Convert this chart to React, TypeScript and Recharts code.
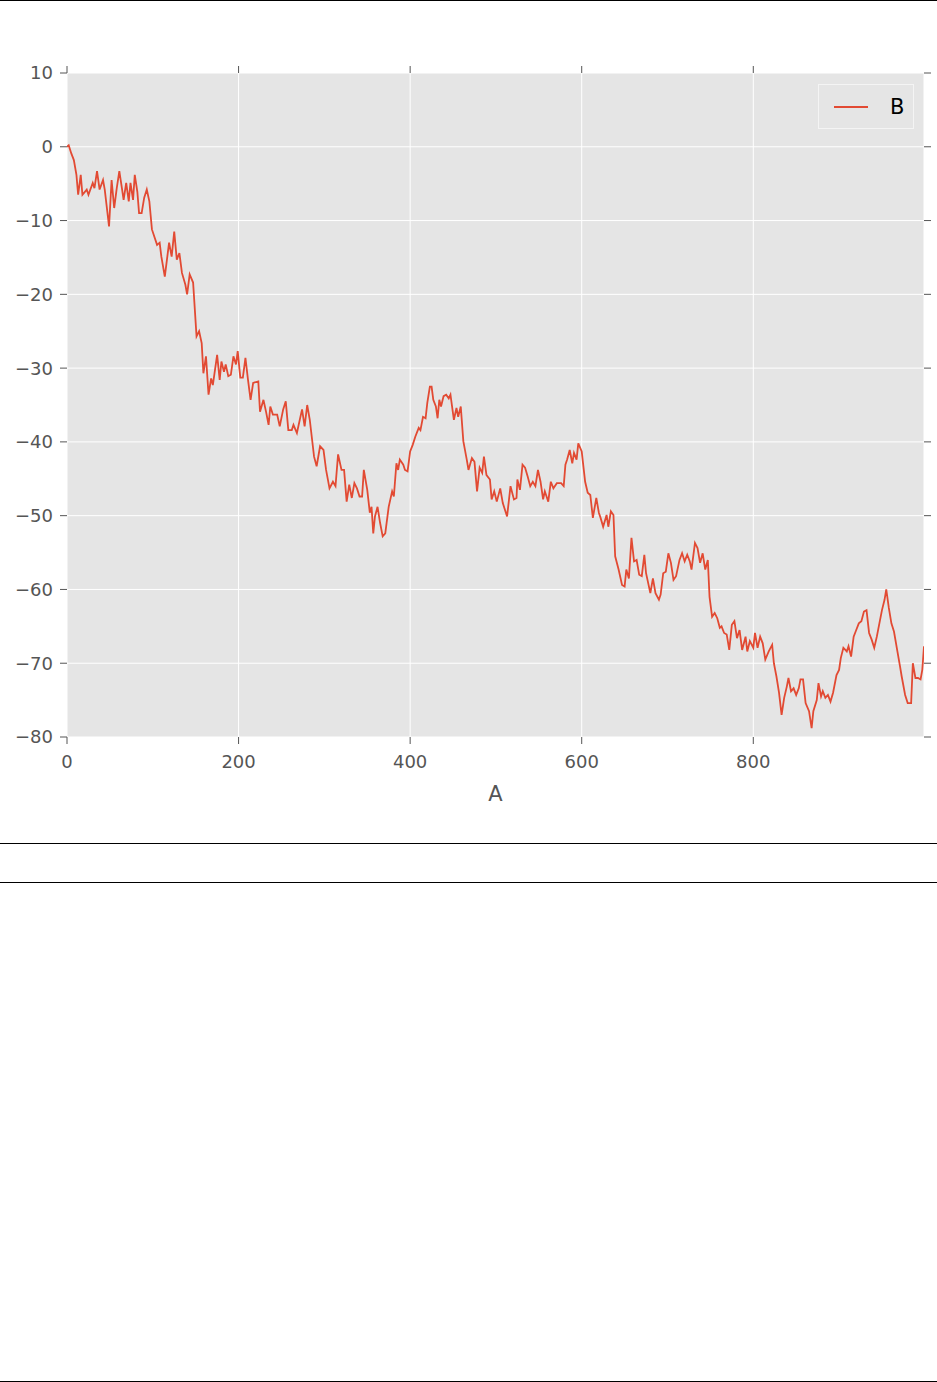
import React from 'react';
import { LineChart, Line, XAxis, YAxis, CartesianGrid, Legend, Label } from 'recharts';

// x positions (column A)
const aVals = [
  0, 2, 5, 8, 11, 13, 16, 18, 23, 25, 30, 32, 35, 38, 42, 44, 49, 52, 55, 58,
  61, 64, 66, 69, 72, 74, 77, 79, 82, 84, 87, 90, 93, 96, 99, 105, 108, 110, 114, 119,
  122, 125, 128, 131, 134, 138, 140, 143, 147, 151, 154, 157, 159, 162, 165, 168, 170, 175, 178, 180,
  183, 185, 188, 191, 194, 197, 199, 202, 205, 208, 211, 214, 217, 223, 225, 229, 232, 235, 237, 240,
  245, 248, 252, 255, 258, 262, 264, 268, 274, 277, 280, 283, 288, 291, 295, 299, 302, 306, 310, 313,
  316, 320, 323, 326, 329, 332, 335, 338, 341, 344, 346, 350, 353, 355, 357, 359, 362, 365, 368, 371,
  375, 379, 381, 384, 386, 388, 392, 394, 397, 400, 403, 406, 410, 412, 415, 418, 420, 423, 425, 427,
  430, 432, 434, 436, 439, 442, 445, 447, 451, 454, 456, 459, 462, 466, 468, 472, 475, 478, 481, 484,
  486, 489, 493, 495, 498, 501, 505, 508, 513, 517, 521, 524, 525, 528, 531, 534, 537, 540, 543, 546,
  549, 552, 555, 557, 561, 564, 567, 571, 576, 579, 581, 583, 586, 589, 591, 594, 596, 600, 604, 607,
  610, 613, 617, 620, 622, 625, 629, 631, 634, 637, 639, 643, 647, 650, 652, 655, 658, 661, 664, 667,
  670, 673, 675, 680, 683, 686, 690, 692, 695, 698, 701, 704, 707, 710, 714, 717, 720, 723, 726, 728,
  732, 735, 738, 741, 744, 747, 749, 752, 755, 758, 761, 763, 766, 769, 772, 775, 778, 781, 784, 787,
  791, 793, 796, 800, 802, 805, 808, 811, 814, 818, 822, 824, 827, 830, 833, 836, 839, 841, 844, 847,
  850, 853, 855, 858, 861, 865, 868, 870, 874, 876, 879, 881, 884, 887, 890, 893, 897, 900, 902, 905,
  909, 911, 914, 917, 920, 923, 926, 929, 932, 935, 938, 941, 944, 947, 950, 953, 955, 958, 961, 964,
  968, 971, 973, 977, 980, 984, 986, 989, 992, 995, 997, 999,
];

// series B
const bVals = [
  0, 0.2, -0.9, -1.8, -3.8, -6.5, -3.8, -6.5, -5.8, -6.5, -4.9, -5.6, -3.3, -5.8, -4.5, -5.8, -10.8, -4.5, -8.3, -5.6,
  -3.3, -5.6, -7.2, -4.9, -7.4, -4.9, -7.2, -3.8, -6.1, -9, -9, -6.9, -5.8, -7.4, -11.2, -13.3, -13, -14.9, -17.6, -13,
  -14.9, -11.5, -15.3, -14.4, -17.1, -18.7, -20, -17.3, -18.4, -25.7, -25, -26.6, -30.7, -28.4, -33.6, -31.4, -32.3, -28.2, -31.6, -29.1,
  -30.5, -29.5, -31.1, -30.9, -28.4, -29.5, -27.7, -31.3, -31.3, -28.6, -31.6, -34.3, -32, -31.8, -35.9, -34.3, -35.9, -37.7, -35.2, -36.3,
  -36.3, -37.9, -35.6, -34.5, -38.4, -38.4, -37.7, -38.8, -35.6, -37.9, -35, -37, -42, -43.3, -40.6, -41.1, -43.8, -46.3, -45.4, -46,
  -41.7, -43.8, -43.8, -48.1, -45.8, -47.6, -45.6, -46.3, -47.4, -47.4, -43.8, -46.5, -49.6, -48.8, -52.4, -50.1, -48.8, -51, -52.8, -52.4,
  -48.8, -46.7, -47.4, -42.9, -43.8, -42.4, -43.1, -43.8, -44, -41.3, -40.4, -39.3, -38.1, -38.4, -36.6, -36.8, -34.7, -32.5, -32.5, -34.3,
  -35.2, -36.8, -34.3, -35.2, -33.8, -33.6, -34.1, -33.6, -37, -35.4, -36.6, -35.2, -39.9, -42.4, -43.8, -42.2, -42.7, -46.7, -43.5, -44.2,
  -42, -44.5, -45.1, -47.8, -46.7, -48.1, -46.3, -48.3, -50.1, -46, -47.8, -47.6, -45.1, -46.5, -43.1, -43.5, -44.7, -46, -45.4, -46,
  -43.8, -45.4, -47.8, -46.7, -48.1, -45.4, -46.3, -45.6, -45.6, -46, -43.1, -42.4, -41.1, -42.9, -41.5, -42.4, -40.2, -41.3, -45.4, -46.9,
  -47.2, -50.3, -47.6, -49.6, -50.3, -51.5, -49.9, -51.5, -49.4, -49.9, -55.5, -57.3, -59.4, -59.6, -57.3, -58.5, -53, -56.2, -56, -58,
  -58.2, -55.3, -57.8, -60.5, -58.5, -60.5, -61.4, -60.7, -57.8, -57.6, -55.1, -56.4, -58.7, -58.2, -56, -55.1, -56.2, -55.3, -56.2, -57.3,
  -53.7, -54.4, -56.4, -55.1, -57.3, -56, -61, -63.7, -63.2, -63.9, -65.2, -65, -65.9, -66.1, -68.2, -64.8, -64.3, -66.6, -65.5, -68.2,
  -66.4, -68.4, -67, -67.9, -65.9, -67.9, -66.4, -67.3, -69.5, -68.4, -67.5, -70, -71.8, -74, -77, -74.7, -73.2, -72, -73.8, -73.4,
  -74.3, -73.4, -72.2, -72.2, -75.4, -76.5, -78.8, -76.5, -75, -72.7, -74.5, -73.8, -74.7, -74.3, -75.2, -74, -71.6, -70.9, -69.3, -67.9,
  -68.4, -67.7, -69.1, -66.4, -65.5, -64.6, -64.3, -63, -62.8, -65.9, -66.8, -67.9, -66.4, -64.6, -62.8, -61.4, -60, -62.5, -64.6, -65.7,
  -68.4, -70.4, -71.8, -74.3, -75.4, -75.4, -70, -72, -72, -72.2, -70.9, -67.7,
];

const xTicks = [0, 200, 400, 600, 800];
const yTicks = [10, 0, -10, -20, -30, -40, -50, -60, -70, -80];

const data = aVals.map((a, i) => ({ A: a, B: bVals[i] }));

const RED = '#E24A33';
const GREY = '#555555';
const FONT = '"DejaVu Sans", sans-serif';

const fmt = (v: number) => (v < 0 ? '\u2212' + Math.abs(v) : String(v));
const blank = () => '';

const rule = (top: number): React.CSSProperties => ({
  position: 'absolute',
  left: 0,
  top,
  width: 937,
  height: 1,
  background: '#000',
});

const LegendBox = () => (
  <div
    style={{
      width: 94,
      height: 43,
      border: '1px solid #F4F4F4',
      background: '#E5E5E5',
      display: 'flex',
      alignItems: 'center',
      fontFamily: FONT,
      fontSize: 21,
      color: '#000',
    }}
  >
    <svg width={50} height={10} style={{ marginLeft: 15 }}>
      <line x1={0} y1={5} x2={34} y2={5} stroke={RED} strokeWidth={1.8} />
    </svg>
    <span style={{ marginLeft: 6 }}>B</span>
  </div>
);

export default function App() {
  return (
    <div style={{ position: 'absolute', left: 0, top: 0, width: 937, height: 1382, background: '#fff' }}>
      <div style={rule(0)} />
      <LineChart
        width={937}
        height={843}
        data={data}
        margin={{ top: 63, right: 3, bottom: 36, left: 7 }}
        style={{ fontFamily: FONT }}
      >
        <CartesianGrid stroke="#FFFFFF" strokeWidth={1} fill="#E5E5E5" fillOpacity={1} />
        <XAxis
          dataKey="A"
          type="number"
          domain={[0, 999]}
          ticks={xTicks}
          allowDataOverflow
          axisLine={false}
          tickLine={{ stroke: GREY }}
          tickSize={7}
          tickMargin={11}
          tick={{ fill: GREY, fontSize: 18 }}
          height={70}
        >
          <Label value="A" position="insideBottom" offset={6} fill={GREY} fontSize={21} />
        </XAxis>
        <XAxis
          xAxisId="top"
          dataKey="A"
          orientation="top"
          type="number"
          domain={[0, 999]}
          ticks={xTicks}
          allowDataOverflow
          axisLine={false}
          tickLine={{ stroke: GREY }}
          tickSize={7}
          tickFormatter={blank}
          tick={{ fill: 'none', fontSize: 1 }}
          height={10}
        />
        <YAxis
          type="number"
          domain={[-80, 10]}
          ticks={yTicks}
          allowDataOverflow
          interval={0}
          axisLine={false}
          tickLine={{ stroke: GREY }}
          tickSize={7}
          tickMargin={7}
          tickFormatter={fmt}
          tick={{ fill: GREY, fontSize: 18 }}
          width={60}
        />
        <YAxis
          yAxisId="right"
          orientation="right"
          type="number"
          domain={[-80, 10]}
          ticks={yTicks}
          allowDataOverflow
          interval={0}
          axisLine={false}
          tickLine={{ stroke: GREY }}
          tickSize={7}
          tickFormatter={blank}
          tick={{ fill: 'none', fontSize: 1 }}
          width={10}
        />
        <Legend
          layout="vertical"
          align="center"
          verticalAlign="middle"
          content={() => <LegendBox />}
          wrapperStyle={{ position: 'absolute', left: 818, top: 84, width: 96 }}
        />
        {/* invisible copy that ties the mirrored top/right tick axes to the data */}
        <Line
          xAxisId="top"
          yAxisId="right"
          dataKey="B"
          stroke="none"
          dot={false}
          activeDot={false}
          legendType="none"
          isAnimationActive={false}
        />
        <Line
          type="linear"
          dataKey="B"
          name="B"
          stroke={RED}
          strokeWidth={1.8}
          dot={false}
          activeDot={false}
          isAnimationActive={false}
        />
      </LineChart>
      <div style={rule(843)} />
      <div style={rule(882)} />
      <div style={rule(1381)} />
    </div>
  );
}
